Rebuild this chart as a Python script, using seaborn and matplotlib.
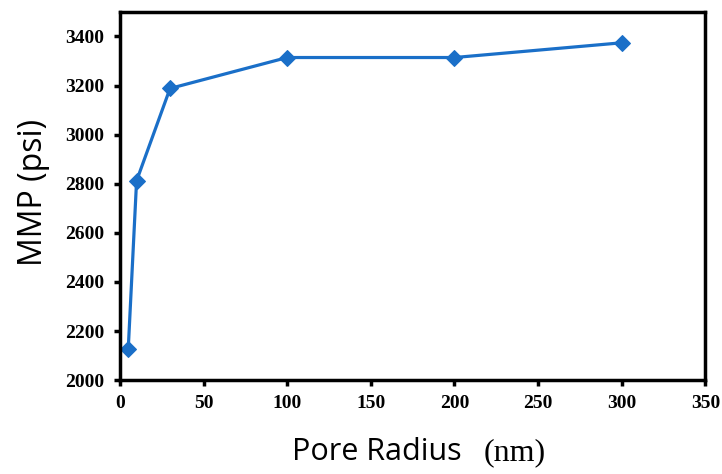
import matplotlib
matplotlib.use("Agg")
import matplotlib.pyplot as plt
import seaborn as sns
import pandas as pd

pore_radius_nm = [5, 10, 30, 100, 200, 300]
mmp_psi = [2125, 2812, 3188, 3314, 3314, 3374]
x_ticks = [0, 50, 100, 150, 200, 250, 300, 350]
y_ticks = [2000, 2200, 2400, 2600, 2800, 3000, 3200, 3400]

sns.set_style("white")
df = pd.DataFrame({"r": pore_radius_nm, "mmp": mmp_psi})

fig = plt.figure(figsize=(7.22, 4.74), dpi=100)
ax = fig.add_axes([0.166, 0.198, 0.811, 0.777])
color = "#1a6fc8"
sns.lineplot(data=df, x="r", y="mmp", ax=ax, color=color, marker="D",
             markersize=8.5, linewidth=2.3, markeredgecolor=color)

ax.set_xlim(0, 350)
ax.set_ylim(2000, 3500)
ax.set_xticks(x_ticks)
ax.set_yticks(y_ticks)
for s in ax.spines.values():
    s.set_linewidth(2.5)
    s.set_color("black")
ax.tick_params(axis="both", direction="out", length=4, width=2.5, color="black",
               labelsize=14, pad=7, labelcolor="black", bottom=True, left=True)
for lab in ax.get_xticklabels() + ax.get_yticklabels():
    lab.set_fontfamily("Liberation Serif")
    lab.set_fontweight("bold")

ax.set_xlabel("")
ax.set_ylabel("")
fig.text(0.046, 0.593, "MMP (psi)", rotation=90, ha="center", va="center",
         fontsize=23, family="Open Sans", color="black")
fig.text(0.640, 0.029, "Pore Radius", ha="right", va="baseline",
         fontsize=22, family="Open Sans", color="black")
fig.text(0.670, 0.029, "(nm)", ha="left", va="baseline",
         fontsize=23, family="Liberation Serif", color="black")

fig.savefig("out.png", dpi=100)
